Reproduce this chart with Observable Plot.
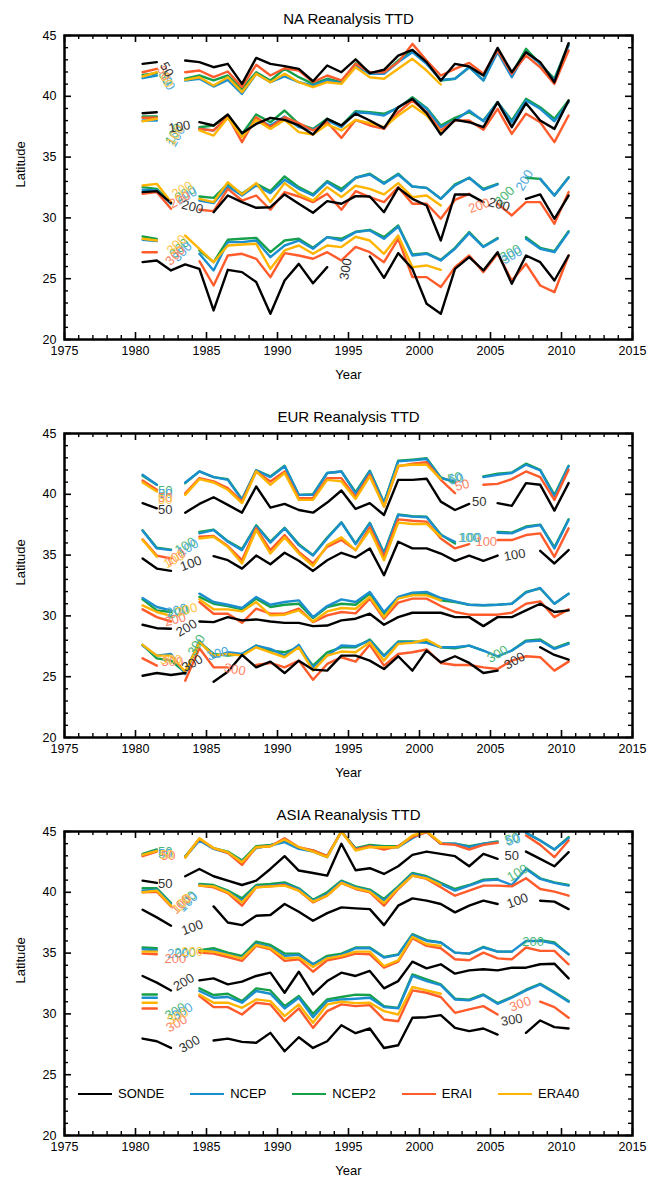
<!DOCTYPE html>
<html><head><meta charset="utf-8">
<script src="https://cdn.jsdelivr.net/npm/d3@7"></script>
<script src="https://cdn.jsdelivr.net/npm/@observablehq/plot@0.6"></script>
<style>
body{margin:0;background:#fff;}
#chart{position:relative;width:652px;height:1180px;font-family:"Liberation Sans",Arial,Helvetica,sans-serif;background:#fff;}
#chart svg{display:block;}
#legend{position:absolute;top:1086px;left:78px;display:flex;align-items:center;font-size:13px;color:#000;}
#legend .it{display:flex;align-items:center;margin-right:26px;}
#legend .ln{display:inline-block;width:34px;height:0;border-top:2.5px solid #000;margin-right:6px;}
</style></head><body><div id="chart"></div>
<script>
const years = d3.range(1980, 2011);
const seriesNames = ["SONDE","NCEP","NCEP2","ERAI","ERA40"];
const seriesColors = ["#000000","#1b8fce","#17a04a","#ff5b2b","#ffb500"];
const labelColors = ["#333333","#4fa9dc","#4bb774","#ff8466","#ffc84a"];
const levels = [50,100,200,300];
const panelTitles = ["NA Reanalysis TTD","EUR Reanalysis TTD","ASIA Reanalysis TTD"];
const xTicks = [1975,1980,1985,1990,1995,2000,2005,2010,2015];
const yTicks = [20,25,30,35,40,45];

// ---------- NA ----------
const NA_SONDE_50 = [42.67,42.81,null,42.94,42.81,42.39,42.67,41.02,43.16,42.67,42.48,42.26,41.24,42.53,41.98,43.04,41.90,42.18,43.35,43.82,42.81,41.30,42.67,42.45,41.71,43.98,41.98,43.63,42.81,41.16,44.37];
const NA_NCEP_50 = [41.49,41.71,null,41.30,41.44,40.80,41.35,40.20,41.85,41.16,41.63,41.16,40.89,41.30,41.08,42.53,41.85,41.85,42.81,43.63,42.67,41.35,41.44,42.39,41.30,43.63,41.57,43.63,42.67,41.30,44.18];
const NA_NCEP2_50 = [41.76,41.90,null,41.44,41.71,41.30,41.71,40.61,41.98,41.30,42.26,41.57,41.02,41.44,41.16,42.72,41.98,41.90,42.94,43.77,42.81,41.30,41.44,42.39,41.30,43.82,41.85,43.90,42.67,41.44,44.31];
const NA_ERAI_50 = [41.98,42.26,null,41.98,42.12,41.57,42.04,40.75,42.59,41.71,42.31,42.12,41.16,41.71,41.30,42.67,41.98,41.98,42.81,44.31,42.94,41.71,42.26,42.75,41.85,43.77,41.85,43.35,42.39,41.02,43.77];
const NA_ERA40_50 = [41.63,41.98,null,41.35,41.57,40.89,41.57,40.34,41.85,41.16,41.85,41.16,40.75,41.16,41.02,42.39,41.57,41.44,42.26,43.08,42.12,40.97];

const NA_SONDE_100 = [38.61,38.69,null,null,37.87,37.60,38.50,36.97,37.73,38.23,38.06,37.60,36.86,38.15,37.60,38.58,38.01,37.38,39.10,39.79,38.61,36.86,38.06,37.87,37.46,39.52,37.46,39.43,38.01,37.32,39.65];
const NA_NCEP_100 = [38.01,38.01,null,null,37.32,37.19,38.23,36.69,38.15,37.60,38.34,37.46,37.24,38.01,37.46,38.69,38.61,38.42,39.10,39.79,38.97,37.46,38.01,38.83,37.95,39.52,37.87,39.65,38.97,37.95,39.52];
const NA_NCEP2_100 = [38.34,38.34,null,null,37.46,37.60,38.42,36.91,38.50,37.87,38.83,37.73,37.32,38.15,37.60,38.78,38.69,38.56,39.05,39.93,39.05,37.60,38.23,38.69,38.01,39.52,38.01,39.79,39.10,38.15,39.65];
const NA_ERAI_100 = [38.23,38.23,null,null,37.32,37.19,38.34,36.23,38.28,37.46,38.28,37.79,37.19,37.87,36.58,38.06,37.60,37.32,38.69,39.65,38.69,37.19,38.01,38.01,37.24,38.97,36.91,38.56,37.87,36.23,38.42];
const NA_ERA40_100 = [37.95,38.15,null,null,37.19,36.77,38.23,36.64,38.06,37.32,38.06,37.05,36.86,37.68,37.19,38.06,37.79,37.46,38.42,39.24,38.42,37.05];

const NA_SONDE_200 = [32.12,32.20,31.24,null,null,30.47,31.84,31.30,30.83,30.88,31.93,31.16,30.42,31.38,31.16,31.79,31.76,30.47,32.47,31.57,31.02,28.14,31.93,31.93,31.30,null,null,31.57,31.93,29.93,31.84];
const NA_NCEP_200 = [32.31,32.26,31.16,null,31.43,31.21,32.58,31.84,32.67,32.04,33.13,32.39,31.84,32.94,32.20,33.30,33.57,32.80,33.57,32.58,32.47,31.57,32.67,33.30,32.31,32.75,null,null,33.21,31.84,33.30];
const NA_NCEP2_200 = [32.53,32.39,31.24,null,31.76,31.65,32.80,31.98,32.80,32.20,33.41,32.53,31.93,33.02,32.39,33.30,33.63,32.86,33.63,32.58,32.47,31.57,32.75,33.30,32.39,32.80,null,33.30,33.21,31.84,33.35];
const NA_ERAI_200 = [31.98,32.12,30.75,null,30.67,30.56,32.39,31.43,31.84,30.67,32.12,31.76,31.30,31.98,30.67,32.20,31.71,31.30,32.53,31.16,31.16,29.93,31.49,31.98,null,31.16,30.20,31.30,31.30,29.51,32.12];
const NA_ERA40_200 = [32.67,32.80,31.30,null,31.57,31.30,32.94,31.93,32.86,31.30,32.86,31.98,31.43,32.53,31.71,32.64,32.39,31.93,32.86,31.71,31.84,31.02];

const NA_SONDE_300 = [26.36,26.50,25.68,26.17,25.81,22.39,25.73,25.54,24.72,22.11,24.85,26.22,24.63,25.95,null,null,26.83,25.07,27.10,25.81,22.94,22.11,25.81,26.77,25.68,27.18,24.58,26.91,26.36,24.85,26.91];
const NA_NCEP_300 = [28.20,28.09,null,null,27.05,25.68,28.01,28.01,28.14,26.77,27.73,28.14,27.46,28.42,28.14,28.83,28.97,28.28,29.29,26.91,27.05,26.50,27.46,28.75,27.60,28.28,null,28.28,27.46,27.18,28.83];
const NA_NCEP2_300 = [28.47,28.28,null,null,27.32,26.36,28.20,28.28,28.36,27.18,28.14,28.28,27.54,28.42,28.28,28.86,29.02,28.42,29.38,26.99,27.10,26.55,27.54,28.83,27.65,28.34,null,28.42,27.54,27.27,28.91];
const NA_ERAI_300 = [27.18,27.18,null,null,26.44,24.44,26.91,27.05,26.64,25.13,27.10,26.91,26.64,27.18,26.50,27.62,27.18,26.36,28.28,25.13,25.13,24.31,25.95,26.91,25.54,27.05,24.85,26.22,24.44,23.89,26.91];
const NA_ERA40_300 = [28.28,28.14,null,28.55,27.46,26.36,27.73,27.81,27.87,25.81,27.32,27.73,27.05,27.73,27.60,28.45,28.14,27.05,28.55,25.95,26.09,25.73];

// ---------- EUR ----------
const EUR_SONDE_50 = [39.27,38.85,null,38.49,39.21,39.76,39.13,38.49,40.64,38.91,39.21,38.71,38.49,39.32,40.31,38.80,39.27,38.30,41.19,41.19,41.28,39.40,38.71,39.21,null,39.27,39.05,40.92,40.78,38.66,40.92];
const EUR_NCEP_50 = [41.61,40.78,null,40.97,41.88,41.41,41.19,39.54,41.97,41.41,42.30,39.95,39.95,41.75,41.88,40.06,41.88,39.27,42.71,42.79,42.90,41.33,41.06,null,41.41,41.61,41.75,42.43,41.97,39.82,42.30];
const EUR_NCEP2_50 = [41.52,40.78,null,40.92,41.88,41.41,41.25,39.60,41.97,41.47,42.35,39.95,40.01,41.75,41.88,40.17,41.94,39.32,42.76,42.85,42.96,41.39,40.97,null,41.47,41.69,41.80,42.52,42.02,39.95,42.35];
const EUR_ERAI_50 = [41.14,40.37,null,40.09,41.33,41.06,40.51,39.40,41.88,41.06,41.88,39.68,39.68,41.33,41.33,39.76,41.61,38.99,42.30,42.52,42.63,41.19,40.09,null,40.78,40.86,41.25,41.88,41.41,39.54,42.02];
const EUR_ERA40_50 = [40.97,40.23,null,39.95,41.25,40.97,40.37,39.27,41.88,40.78,41.75,39.54,39.54,41.19,41.06,39.62,41.47,38.99,42.35,42.43,42.43,41.25];

const EUR_SONDE_100 = [34.72,33.89,33.70,null,null,34.91,34.58,33.89,34.96,34.25,35.19,34.53,33.70,34.58,35.19,34.80,35.55,33.34,36.10,35.55,35.55,35.13,34.53,34.96,34.53,34.96,null,null,35.35,34.31,35.41];
const EUR_NCEP_100 = [37.01,35.55,35.41,null,36.79,37.06,36.10,35.41,37.39,36.02,37.20,35.82,34.96,36.37,37.67,35.90,37.61,35.13,38.30,38.16,38.11,36.65,36.10,null,null,36.84,36.79,37.28,37.48,35.55,37.89];
const EUR_NCEP2_100 = [37.05,35.60,35.45,null,36.90,37.10,36.15,35.50,37.45,36.10,37.25,35.90,35.00,36.45,37.70,35.95,37.65,35.20,38.35,38.20,38.15,36.70,35.95,null,null,36.90,36.85,37.35,37.50,35.65,37.95];
const EUR_ERAI_100 = [36.29,34.96,34.72,null,36.51,36.57,35.74,34.58,37.20,35.41,36.65,35.27,34.31,35.68,36.24,35.41,37.28,34.86,37.94,37.83,37.75,36.37,35.55,35.90,null,36.24,36.24,36.65,36.79,34.86,37.20];
const EUR_ERA40_100 = [36.24,34.86,null,null,36.37,36.51,35.68,34.31,37.06,35.13,36.46,35.13,34.09,35.82,36.46,35.41,37.06,34.58,37.67,37.56,37.56,36.51];

const EUR_SONDE_200 = [29.27,28.99,28.94,null,29.54,29.49,29.90,29.63,29.71,29.54,29.43,29.43,29.16,29.21,29.63,29.77,30.18,29.27,29.90,30.26,30.26,30.26,29.90,29.90,29.16,29.90,29.90,30.45,31.00,30.32,30.45];
const EUR_NCEP_200 = [31.47,30.73,30.45,null,31.83,31.14,30.92,30.65,31.56,30.92,31.14,31.28,29.90,30.81,31.36,31.14,31.97,30.32,31.56,31.91,31.97,31.47,31.20,30.92,30.87,30.92,31.00,31.91,32.30,31.00,31.83];
const EUR_NCEP2_200 = [31.36,30.45,30.32,null,31.56,31.00,30.81,30.54,31.42,30.73,30.92,31.00,29.82,30.73,31.00,30.92,31.83,30.18,31.47,31.83,31.83,31.28,31.14,30.92,30.87,30.92,31.00,31.97,32.25,31.00,31.83];
const EUR_ERAI_200 = [30.54,29.90,29.54,null,31.14,30.18,30.18,29.43,30.59,30.18,30.18,30.59,29.49,30.04,30.32,30.21,31.42,29.77,31.09,31.42,31.42,30.81,30.32,30.10,30.10,30.10,30.26,31.00,31.20,29.90,30.54];
const EUR_ERA40_200 = [30.87,30.32,30.00,null,31.36,30.54,30.54,30.37,31.14,30.04,30.10,30.45,29.54,30.37,30.65,30.59,31.56,29.90,31.42,31.69,31.69,31.28];

const EUR_SONDE_300 = [25.08,25.30,25.14,25.30,null,24.59,25.41,26.79,25.77,26.24,25.30,26.32,25.58,25.50,26.73,26.73,26.32,25.63,26.68,25.50,27.15,26.18,26.68,26.13,25.30,25.50,null,null,27.42,26.79,26.40];
const EUR_NCEP_300 = [27.56,26.73,26.87,25.22,27.97,26.60,27.01,26.87,27.56,27.29,26.73,27.62,25.77,26.73,27.56,27.51,27.97,26.68,27.84,27.84,27.78,27.42,27.42,27.56,27.15,26.68,27.15,27.89,27.97,27.29,27.70];
const EUR_NCEP2_300 = [27.62,26.51,26.32,25.36,27.84,26.87,26.73,26.87,27.56,27.15,27.01,27.42,25.91,27.01,27.42,27.42,28.06,26.73,27.89,27.89,27.84,27.42,27.34,27.56,27.15,null,27.15,27.97,28.06,27.34,27.78];
const EUR_ERAI_300 = [26.51,25.91,null,24.67,27.34,25.77,25.77,null,25.96,26.13,25.77,26.32,24.75,26.05,26.60,26.24,27.62,25.91,26.87,27.01,27.24,26.13,25.96,25.96,25.77,25.63,26.32,26.68,26.60,25.50,26.24];
const EUR_ERA40_300 = [27.62,26.73,26.73,25.41,27.84,26.73,26.87,26.73,27.42,27.01,26.60,27.42,25.50,26.73,27.07,27.01,27.84,26.32,27.70,27.78,28.06,27.42];

// ---------- ASIA ----------
const ASIA_SONDE_50 = [40.96,40.77,null,41.32,41.92,41.32,40.96,40.60,40.96,41.92,42.97,41.79,41.59,41.37,43.99,41.81,41.98,41.51,42.14,43.08,43.35,43.16,42.97,42.14,43.16,42.75,null,43.35,42.75,42.14,43.30];
const ASIA_NCEP_50 = [43.08,43.44,null,42.89,44.26,43.57,43.24,42.53,43.63,43.85,44.12,43.57,43.35,42.89,45.0,43.57,43.79,43.71,43.71,44.45,45.0,43.99,43.99,43.71,43.99,44.12,null,44.89,44.26,43.52,44.45];
const ASIA_NCEP2_50 = [43.16,43.52,null,42.97,44.34,43.63,43.35,42.61,43.79,43.90,44.18,43.63,43.44,42.97,45.0,43.63,43.90,43.79,43.79,44.62,45.0,43.99,43.99,43.79,43.99,44.18,null,44.89,44.26,43.52,44.54];
const ASIA_ERAI_50 = [42.97,43.35,null,42.89,44.40,43.63,43.24,42.25,43.71,43.79,44.45,43.71,43.44,42.97,45.0,43.52,43.79,43.52,43.79,44.54,44.95,43.99,43.90,43.52,43.90,44.07,null,44.67,43.90,42.89,44.26];
const ASIA_ERA40_50 = [43.08,43.41,null,42.86,44.45,43.63,43.30,42.47,43.71,43.79,44.34,43.71,43.35,42.89,45.0,43.44,43.71,43.71,43.71,44.67,45.0,44.07];

const ASIA_SONDE_100 = [38.57,37.94,37.25,null,null,38.84,37.52,37.30,38.07,38.13,39.04,38.40,37.66,38.29,38.76,38.68,38.62,37.30,38.90,39.50,39.31,39.04,38.35,38.90,39.31,39.04,null,null,39.31,39.23,38.62];
const ASIA_NCEP_100 = [40.14,40.22,39.04,null,40.60,40.49,40.05,39.31,40.49,40.55,40.69,40.27,39.31,39.86,40.88,40.41,40.14,39.31,40.41,41.51,41.24,40.69,40.14,40.55,40.96,41.04,40.60,41.92,41.10,40.77,40.55];
const ASIA_NCEP2_100 = [40.33,40.33,39.12,null,40.69,40.60,40.14,39.50,40.60,40.69,40.82,40.33,39.39,40.00,40.96,40.49,40.22,39.45,40.49,41.59,41.32,40.77,40.27,40.60,41.04,41.10,null,41.98,41.15,40.82,40.60];
const ASIA_ERAI_100 = [40.00,40.05,38.84,null,40.55,40.41,39.94,38.90,40.41,40.49,40.60,40.14,39.17,39.72,40.77,40.27,40.00,38.90,40.27,41.37,41.10,40.41,39.72,40.14,40.55,40.55,40.49,41.15,40.27,40.05,39.72];
const ASIA_ERA40_100 = [40.00,40.14,38.90,null,40.55,40.49,40.00,39.17,40.41,40.49,40.55,40.14,39.23,39.72,40.77,40.33,40.05,39.12,40.33,41.37,41.15,40.60];

const ASIA_SONDE_200 = [33.12,32.57,31.93,null,32.76,32.92,32.43,32.65,33.12,33.39,31.74,33.47,31.60,32.70,33.39,33.12,33.53,32.10,32.70,34.30,33.75,34.08,33.31,33.58,33.67,33.58,33.80,33.80,34.08,34.13,32.92];
const ASIA_NCEP_200 = [35.32,35.24,null,null,35.12,35.24,34.90,34.63,35.78,35.51,34.77,34.85,34.08,34.63,34.85,35.40,35.40,34.63,34.85,36.50,36.00,35.87,35.04,34.96,35.46,35.12,35.12,36.00,36.00,35.78,34.90];
const ASIA_NCEP2_200 = [35.46,35.40,null,null,35.24,35.40,35.04,34.77,35.95,35.67,34.96,34.96,34.08,34.77,34.96,35.46,35.46,34.68,34.90,36.56,36.06,35.87,35.04,34.96,35.51,35.12,35.12,null,36.06,35.87,34.90];
const ASIA_ERAI_200 = [34.96,34.90,null,null,35.04,34.96,34.68,34.36,35.59,35.32,34.36,34.49,33.47,34.41,34.63,34.96,34.90,33.80,34.30,36.22,35.59,35.40,34.49,34.41,35.04,34.57,34.49,35.46,35.18,35.18,34.08];
const ASIA_ERA40_200 = [35.12,35.12,null,null,35.18,35.12,34.85,34.57,35.67,35.40,34.57,34.63,33.86,34.57,34.77,35.12,35.12,33.94,34.41,36.33,35.73,35.59];

const ASIA_SONDE_300 = [27.97,27.75,27.20,null,null,27.81,27.97,27.70,27.62,28.44,26.93,28.08,27.20,27.75,29.07,28.41,28.80,27.20,27.42,29.68,29.73,29.90,28.85,28.58,28.80,28.30,null,28.44,29.46,28.91,28.80];
const ASIA_NCEP_300 = [31.33,31.33,null,null,31.88,31.33,31.39,30.92,31.88,31.66,30.45,31.33,29.73,31.05,31.19,31.25,31.33,30.56,30.45,33.12,32.70,32.37,31.19,31.11,31.55,30.83,31.33,31.93,32.43,31.74,31.00];
const ASIA_NCEP2_300 = [31.60,31.60,null,null,32.10,31.55,31.66,31.05,32.10,31.93,30.64,31.47,30.01,31.19,31.39,31.58,31.55,30.64,30.50,33.25,32.84,32.43,31.25,31.17,31.60,30.89,31.39,31.99,32.48,31.80,31.05];
const ASIA_ERAI_300 = [30.45,30.45,null,null,31.47,30.56,30.56,29.95,30.92,30.78,29.40,30.45,28.85,30.23,30.78,30.64,30.72,29.54,29.40,31.93,31.74,31.39,30.09,30.37,30.64,29.95,null,null,31.00,30.56,29.68];
const ASIA_ERA40_300 = [30.92,30.92,null,null,31.60,30.92,30.92,30.50,31.19,31.05,29.82,30.78,29.27,30.78,31.00,30.89,30.92,30.23,29.95,32.21,31.93,31.66];

// contour-style level labels: [series, text, year, latitude, angle]
const NA_labels = [
 ["SONDE","50",1982.2,42.2,60],["ERAI","50",1982.0,41.9,60],["NCEP2","50",1982.1,41.5,60],["ERA40","50",1982.2,41.3,60],["NCEP","50",1982.3,41.1,60],
 ["SONDE","100",1983.1,37.5,-10],["NCEP2","100",1982.7,36.9,-60],["ERA40","100",1982.8,36.8,-60],["NCEP","100",1982.9,36.7,-60],
 ["ERA40","200",1983.3,32.3,-30],["NCEP2","200",1983.5,32.0,-30],["NCEP","200",1983.6,31.8,-30],["ERAI","200",1983.1,31.5,-30],["SONDE","200",1984.0,30.9,15],
 ["ERA40","300",1982.9,27.8,-45],["NCEP2","300",1983.1,27.5,-45],["NCEP","300",1983.3,27.2,-45],["ERAI","300",1982.8,26.9,-45],["SONDE","300",1994.8,25.8,-80],
 ["ERAI","200",2004.2,31.0,-20],["SONDE","200",2005.6,31.1,15],["NCEP2","200",2006.0,31.8,-45],["NCEP","200",2007.4,33.1,-60],
 ["NCEP2","300",2006.4,27.1,-30],["NCEP","300",2006.5,26.9,-30]
];
const EUR_labels = [
 ["NCEP2","50",1982.1,40.25,0],["NCEP","50",1982.1,40.05,0],["ERAI","50",1982.1,39.75,0],["ERA40","50",1982.1,39.55,0],["SONDE","50",1982.1,38.75,0],
 ["NCEP2","100",1983.5,35.75,-30],["NCEP","100",1983.7,35.6,-30],["ERAI","100",1982.8,34.8,-30],["ERA40","100",1982.7,34.6,-30],["SONDE","100",1983.9,34.3,-20],
 ["NCEP","200",1982.9,30.45,-15],["NCEP2","200",1983.0,30.3,-15],["ERA40","200",1983.6,30.5,-15],["ERAI","200",1982.8,29.7,-15],["SONDE","200",1983.6,29.0,-30],
 ["ERA40","300",1982.5,26.4,0],["ERAI","300",1982.6,26.2,0],["SONDE","300",1984.0,26.1,-30],["NCEP2","300",1984.3,27.6,-60],["NCEP","300",1985.8,26.9,-15],["ERAI","300",1987.0,25.6,10],
 ["NCEP2","50",2002.5,41.35,-15],["NCEP","50",2002.6,41.25,-15],["ERAI","50",2003.0,40.75,-15],["SONDE","50",2004.2,39.35,0],
 ["NCEP2","100",2003.5,36.45,0],["NCEP","100",2003.6,36.4,0],["ERAI","100",2004.7,36.1,0],["SONDE","100",2006.7,35.0,-10],
 ["NCEP2","300",2005.5,26.85,-30],["SONDE","300",2006.7,26.3,-30]
];
const ASIA_labels = [
 ["NCEP2","50",1982.1,43.3,0],["NCEP","50",1982.1,43.2,0],["ERA40","50",1982.2,43.1,0],["ERAI","50",1982.3,43.0,0],["SONDE","50",1982.1,40.7,0],
 ["ERA40","100",1983.3,39.1,-45],["NCEP2","100",1983.6,39.3,-45],["NCEP","100",1983.7,39.2,-45],["ERAI","100",1983.2,39.0,-45],["SONDE","100",1984.0,37.1,-20],
 ["NCEP","200",1983.0,34.95,0],["NCEP2","200",1983.5,35.0,0],["ERA40","200",1984.0,35.1,0],["ERAI","200",1982.8,34.55,0],["SONDE","200",1983.4,32.6,-30],
 ["NCEP2","300",1982.8,30.2,-30],["NCEP","300",1983.3,30.2,-30],["ERA40","300",1983.0,29.8,-30],["ERAI","300",1982.9,29.2,-30],["SONDE","300",1983.8,27.5,-30],
 ["NCEP2","50",2006.5,44.4,-15],["NCEP","50",2006.6,44.3,-15],["SONDE","50",2006.5,43.0,0],
 ["NCEP2","100",2006.9,41.6,-30],["SONDE","100",2006.9,39.3,-20],["NCEP2","200",2008.0,35.9,0],
 ["ERAI","300",2007.1,30.8,-20],["SONDE","300",2006.5,29.5,-10]
];

const panels = [
 {title: panelTitles[0], labels: NA_labels, sets: {
   50:[NA_SONDE_50,NA_NCEP_50,NA_NCEP2_50,NA_ERAI_50,NA_ERA40_50],
   100:[NA_SONDE_100,NA_NCEP_100,NA_NCEP2_100,NA_ERAI_100,NA_ERA40_100],
   200:[NA_SONDE_200,NA_NCEP_200,NA_NCEP2_200,NA_ERAI_200,NA_ERA40_200],
   300:[NA_SONDE_300,NA_NCEP_300,NA_NCEP2_300,NA_ERAI_300,NA_ERA40_300]}},
 {title: panelTitles[1], labels: EUR_labels, sets: {
   50:[EUR_SONDE_50,EUR_NCEP_50,EUR_NCEP2_50,EUR_ERAI_50,EUR_ERA40_50],
   100:[EUR_SONDE_100,EUR_NCEP_100,EUR_NCEP2_100,EUR_ERAI_100,EUR_ERA40_100],
   200:[EUR_SONDE_200,EUR_NCEP_200,EUR_NCEP2_200,EUR_ERAI_200,EUR_ERA40_200],
   300:[EUR_SONDE_300,EUR_NCEP_300,EUR_NCEP2_300,EUR_ERAI_300,EUR_ERA40_300]}},
 {title: panelTitles[2], labels: ASIA_labels, sets: {
   50:[ASIA_SONDE_50,ASIA_NCEP_50,ASIA_NCEP2_50,ASIA_ERAI_50,ASIA_ERA40_50],
   100:[ASIA_SONDE_100,ASIA_NCEP_100,ASIA_NCEP2_100,ASIA_ERAI_100,ASIA_ERA40_100],
   200:[ASIA_SONDE_200,ASIA_NCEP_200,ASIA_NCEP2_200,ASIA_ERAI_200,ASIA_ERA40_200],
   300:[ASIA_SONDE_300,ASIA_NCEP_300,ASIA_NCEP2_300,ASIA_ERAI_300,ASIA_ERA40_300]}}
];

const W = 652, ML = 64, MR = 20, MT = 35, FH = 304, FW = W - ML - MR;
const panelHeights = [398, 398, 384];
const drawOrder = [2, 1, 3, 4, 0];
const majorX = xTicks, minorX = d3.range(1975, 2016).filter(d => d % 5 !== 0);
const majorY = yTicks, minorY = d3.range(20, 46).filter(d => d % 5 !== 0);
const FONT = '"Liberation Sans", Arial, Helvetica, sans-serif';

function makePanel(p, k) {
  const H = panelHeights[k];
  const rows = [];
  levels.forEach(lv => p.sets[lv].forEach((arr, s) => arr.forEach((v, i) =>
    rows.push({s, lv, x: years[i] + 0.5, y: v == null ? NaN : v}))));
  const labs = p.labels.map(([sn, t, x, y, r]) => ({s: seriesNames.indexOf(sn), t, x, y, r}));
  const marks = [];
  drawOrder.forEach(s => marks.push(Plot.line(rows.filter(r => r.s === s),
    {x: "x", y: "y", z: "lv", stroke: seriesColors[s], strokeWidth: 2.4, clip: true})));
  drawOrder.forEach(s => marks.push(Plot.text(labs.filter(l => l.s === s),
    {x: "x", y: "y", text: "t", rotate: "r", fill: labelColors[s], fontSize: 13})));
  marks.push(
    Plot.ruleX(majorX, {insetBottom: FH - 7, strokeWidth: 1.6}),
    Plot.ruleX(majorX, {insetTop: FH - 7, strokeWidth: 1.6}),
    Plot.ruleX(minorX, {insetBottom: FH - 4, strokeWidth: 1.4}),
    Plot.ruleX(minorX, {insetTop: FH - 4, strokeWidth: 1.4}),
    Plot.ruleY(majorY, {insetRight: FW - 7, strokeWidth: 1.6}),
    Plot.ruleY(majorY, {insetLeft: FW - 7, strokeWidth: 1.6}),
    Plot.ruleY(minorY, {insetRight: FW - 4, strokeWidth: 1.4}),
    Plot.ruleY(minorY, {insetLeft: FW - 4, strokeWidth: 1.4}),
    Plot.frame({stroke: "black", strokeWidth: 2.5}),
    Plot.axisX(majorX, {tickSize: 0, tickPadding: 7, tickFormat: d => String(d), fontSize: 12.5, label: null}),
    Plot.axisY(majorY, {tickSize: 0, tickPadding: 8, fontSize: 12.5, label: null}),
    Plot.text([p.title], {text: d => d, frameAnchor: "top", dy: -22, fontSize: 15}),
    Plot.text(["Year"], {text: d => d, frameAnchor: "bottom", dy: 39, fontSize: 13}),
    Plot.text(["Latitude"], {text: d => d, frameAnchor: "left", dx: -44, rotate: -90, fontSize: 13})
  );
  return Plot.plot({
    width: W, height: H, marginTop: MT, marginBottom: H - MT - FH, marginLeft: ML, marginRight: MR,
    x: {domain: [1975, 2015]}, y: {domain: [20, 45]},
    style: {fontFamily: FONT, fontSize: "12.5px", background: "white", color: "black"},
    marks
  });
}

const chart = document.getElementById("chart");
panels.forEach((p, k) => chart.appendChild(makePanel(p, k)));

const legend = document.createElement("div");
legend.id = "legend";
seriesNames.forEach((n, s) => {
  const it = document.createElement("div"); it.className = "it";
  const ln = document.createElement("span"); ln.className = "ln"; ln.style.borderTopColor = seriesColors[s];
  const tx = document.createElement("span"); tx.textContent = n;
  it.appendChild(ln); it.appendChild(tx); legend.appendChild(it);
});
chart.appendChild(legend);
</script></body></html>
